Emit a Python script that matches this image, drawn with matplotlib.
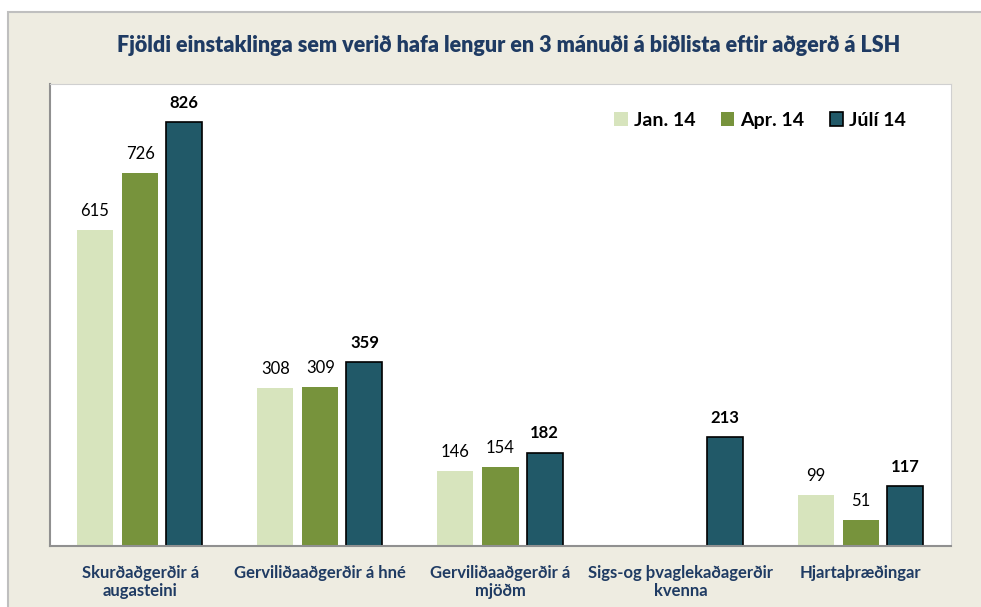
import matplotlib.pyplot as plt
import matplotlib.patches as mpatches
import numpy as np

categories = ['Skurðaðgerðir á\naugasteini', 'Gerviliðaaðgerðir á hné',
              'Gerviliðaaðgerðir á\nmjöðm', 'Sigs-og þvaglekaðagerðir\nkvenna',
              'Hjartaþræðingar']
series = ['Jan. 14', 'Apr. 14', 'Júlí 14']
jan14 = [615, 308, 146, None, 99]
apr14 = [726, 309, 154, None, 51]
juli14 = [826, 359, 182, 213, 117]

colors = ['#D7E4BD', '#77933C', '#215968']
navy = '#1F3B63'

plt.rcParams['font.family'] = ['Lato', 'DejaVu Sans']

fig = plt.figure(figsize=[9.81, 6.07], dpi=100)
fig.patch.set_facecolor('white')
# beige panel behind the chart
fig.patches.append(mpatches.Rectangle((8 / 981, -0.05), 1.0, 1 - 12 / 607 + 0.05,
                                      transform=fig.transFigure, facecolor='#EEECE1',
                                      edgecolor='#BFBFBF', linewidth=1.5, zorder=-10))

ax = fig.add_axes([50 / 981, 61 / 607, 901 / 981, 462 / 607])
ax.set_facecolor('white')

x = np.arange(len(categories))
w = 0.2
offsets = [-0.25, 0, 0.245]
for vals, off, col, name in zip([jan14, apr14, juli14], offsets, colors, series):
    pos = [xi + off for xi, v in zip(x, vals) if v is not None]
    hts = [v for v in vals if v is not None]
    bold = name == 'Júlí 14'
    bars = ax.bar(pos, hts, width=w, color=col, label=name,
                  edgecolor='black' if bold else col, linewidth=1.2 if bold else 0)
    for b, v in zip(bars, hts):
        ax.annotate(str(v), (b.get_x() + b.get_width() / 2, v), xytext=(0, 8),
                    textcoords='offset points', ha='center', va='bottom',
                    fontsize=12, fontweight='bold' if bold else 'normal', color='black')

ax.set_xlim(-0.5, len(categories) - 0.5)
ax.set_ylim(0, 900)
ax.set_yticks([])
ax.set_xticks(x)
ax.set_xticklabels(categories, fontsize=12, fontweight='bold', color=navy, linespacing=1.1)
ax.tick_params(axis='x', length=0, pad=14)
for side in ['top', 'right']:
    ax.spines[side].set_color('#D0D0D0')
for side in ['left', 'bottom']:
    ax.spines[side].set_color('#909090')
    ax.spines[side].set_linewidth(1.5)

leg = ax.legend(loc='upper right', bbox_to_anchor=(0.95, 0.94), ncol=3, frameon=False,
                handlelength=0.7, handleheight=0.7, handletextpad=0.3, columnspacing=1.3,
                borderpad=0, borderaxespad=0,
                prop={'weight': 'bold', 'size': 14})

fig.text(0.518, 1 - 46 / 607, 'Fjöldi einstaklinga sem verið hafa lengur en 3 mánuði á biðlista eftir aðgerð á LSH',
         ha='center', va='center', fontsize=15.5, fontweight='heavy', color=navy)

fig.savefig('out.png', dpi=100)
